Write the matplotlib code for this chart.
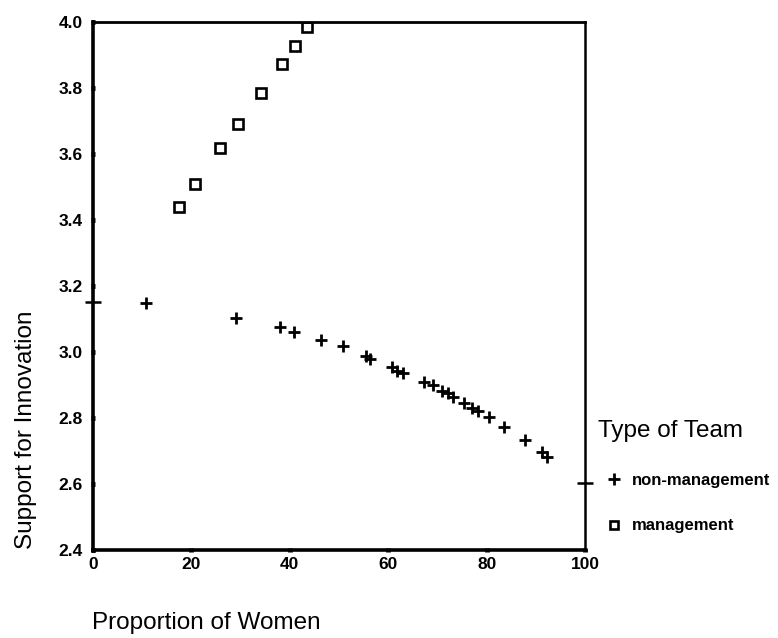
import matplotlib
matplotlib.use("Agg")
import matplotlib.pyplot as plt

plt.rcParams["font.family"] = ["Liberation Sans", "DejaVu Sans"]

# Proportion of women (%) and support for innovation, by team type
mgmt_women = [17.5, 20.7, 25.8, 29.5, 34.2, 38.5, 41.0, 43.4]
mgmt_support = [3.44, 3.51, 3.617, 3.69, 3.784, 3.873, 3.927, 3.986]

nonmgmt_women = [10.8, 29.1, 38.1, 40.9, 46.4, 50.9, 55.5, 56.2, 60.7, 61.8,
                 63.1, 67.3, 69.0, 71.0, 72.1, 73.1, 75.3, 77.0, 78.3, 80.5,
                 83.5, 87.7, 91.2, 92.2]
nonmgmt_support = [3.148, 3.104, 3.075, 3.061, 3.036, 3.018, 2.988, 2.978,
                   2.954, 2.943, 2.937, 2.910, 2.900, 2.883, 2.877, 2.865,
                   2.845, 2.831, 2.821, 2.804, 2.772, 2.733, 2.698, 2.683]

# fitted-line ends marked on the frame (x = 0 and x = 100)
fit_ends_x = [0, 100]
fit_ends_y = [3.151, 2.602]

x_ticks = [0, 20, 40, 60, 80, 100]
y_ticks = [2.4, 2.6, 2.8, 3.0, 3.2, 3.4, 3.6, 3.8, 4.0]

fig = plt.figure(figsize=(7.78, 6.38), dpi=100)
ax = fig.add_axes([0.1195, 0.138, 0.6325, 0.8275])

ax.plot(nonmgmt_women, nonmgmt_support, linestyle="none", marker="+",
        markersize=9, markeredgewidth=2.0, color="black", label="non-management")
ax.plot(mgmt_women, mgmt_support, linestyle="none", marker="s",
        markersize=6.5, markeredgewidth=1.9, markerfacecolor="white",
        markeredgecolor="black", label="management")
ax.plot(fit_ends_x, fit_ends_y, linestyle="none", marker="_",
        markersize=11, markeredgewidth=1.8, color="black", clip_on=False)

ax.set_xlim(0, 100)
ax.set_ylim(2.4, 4.0)
ax.set_xticks(x_ticks)
ax.set_yticks(y_ticks)
ax.set_xticklabels([str(v) for v in x_ticks], fontsize=12.5, fontweight="bold")
ax.set_yticklabels([f"{v:.1f}" for v in y_ticks], fontsize=12.5, fontweight="bold")
ax.tick_params(axis="y", length=2.5, width=3.5, direction="inout", pad=6)
ax.tick_params(axis="x", length=2.5, width=3.5, direction="inout", pad=4)

for side, lw in (("left", 2.6), ("bottom", 2.6), ("top", 2.0), ("right", 1.8)):
    ax.spines[side].set_linewidth(lw)
    ax.spines[side].set_color("black")

fig.text(0.034, 0.326, "Support for Innovation", rotation=90,
         ha="center", va="center", fontsize=17.5)
fig.text(0.118, 0.024, "Proportion of Women", ha="left", va="center", fontsize=17.5)

leg = ax.legend(loc="upper left", bbox_to_anchor=(0.769, 0.342),
                bbox_transform=fig.transFigure, frameon=False,
                title="Type of Team", fontsize=12, handlelength=1.9,
                handletextpad=0.1, labelspacing=1.85, borderpad=0,
                borderaxespad=0, markerscale=0.9)
leg.get_title().set_fontsize(17.5)
leg._legend_box.align = "left"
for t in leg.get_texts():
    t.set_fontweight("bold")

fig.savefig("out.png", dpi=100)
